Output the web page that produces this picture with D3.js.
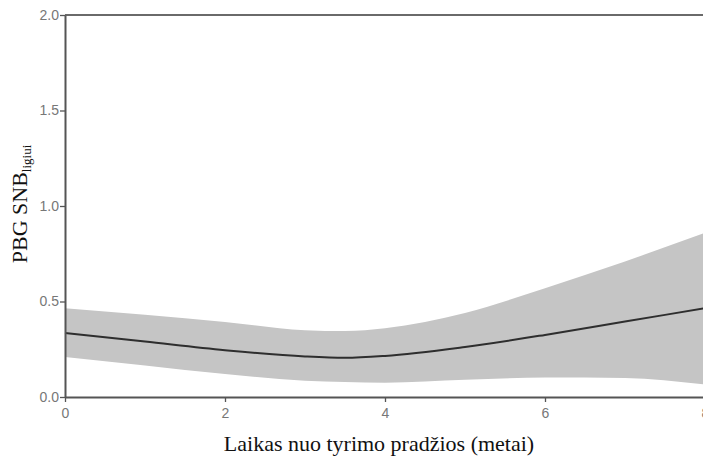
<!DOCTYPE html>
<html>
<head>
<meta charset="utf-8">
<script src="https://cdn.jsdelivr.net/npm/d3@7"></script>
<style>
  html, body { margin: 0; padding: 0; background: #fff; }
  svg { display: block; }
</style>
</head>
<body>
<svg id="chart" width="703" height="458"></svg>
<script>
// Years since study start
const years   = [0, 1, 2, 3, 3.5, 4, 5, 6, 7, 8];
// Fitted value and 95% confidence band
const fit     = [0.335, 0.29, 0.245, 0.212, 0.205, 0.215, 0.262, 0.325, 0.395, 0.465];
const upper   = [0.465, 0.43, 0.393, 0.35, 0.345, 0.36, 0.44, 0.57, 0.71, 0.86];
const lower   = [0.21, 0.165, 0.12, 0.085, 0.078, 0.075, 0.09, 0.102, 0.1, 0.065];
const xTicks  = [0, 2, 4, 6, 8];
const yTicks  = [0, 0.5, 1, 1.5, 2];

const svg = d3.select("#chart");
const margin = { left: 65, top: 15, right: -2, bottom: 61 };
const W = 703, H = 458;

const x = d3.scaleLinear().domain([0, 8]).range([margin.left, W - margin.right]);
const y = d3.scaleLinear().domain([0, 2]).range([H - margin.bottom, margin.top]);

const rows = years.map((t, i) => ({ t, fit: fit[i], lo: lower[i], hi: upper[i] }));

// Confidence band
svg.append("path")
  .datum(rows)
  .attr("fill", "#c5c5c5")
  .attr("d", d3.area()
    .x(d => x(d.t))
    .y0(d => y(d.lo))
    .y1(d => y(d.hi))
    .curve(d3.curveMonotoneX));

// Fitted curve
svg.append("path")
  .datum(rows)
  .attr("fill", "none")
  .attr("stroke", "#2e2e2e")
  .attr("stroke-width", 2)
  .attr("d", d3.line()
    .x(d => x(d.t))
    .y(d => y(d.fit))
    .curve(d3.curveMonotoneX));

// Top frame line
svg.append("line")
  .attr("x1", x(0)).attr("x2", W)
  .attr("y1", y(2)).attr("y2", y(2))
  .attr("stroke", "#6a6a6a").attr("stroke-width", 2);

// Axes
const xAxis = svg.append("g")
  .attr("transform", `translate(0,${y(0)})`)
  .call(d3.axisBottom(x).tickValues(xTicks).tickFormat(d3.format("d")).tickSize(5).tickSizeOuter(0));
const yAxis = svg.append("g")
  .attr("transform", `translate(${x(0)},0)`)
  .call(d3.axisLeft(y).tickValues(yTicks).tickFormat(d3.format(".1f")).tickSize(5).tickSizeOuter(0));

[xAxis, yAxis].forEach(g => {
  g.select(".domain").attr("stroke", "#555").attr("stroke-width", 2);
  g.selectAll(".tick line").attr("stroke", "#555").attr("stroke-width", 1.3);
  g.selectAll(".tick text")
    .attr("fill", "#777")
    .style("font-family", "Liberation Sans, Arial, sans-serif")
    .style("font-size", "14px");
});
xAxis.selectAll(".tick text").attr("dy", "0.9em");
yAxis.selectAll(".tick text").attr("x", -6);

// Axis titles
svg.append("text")
  .attr("x", 379).attr("y", 451)
  .attr("text-anchor", "middle")
  .style("font-family", "Liberation Serif, 'Times New Roman', serif")
  .style("font-size", "22px")
  .attr("fill", "#111")
  .text("Laikas nuo tyrimo pradžios (metai)");

const yTitle = svg.append("text")
  .attr("transform", "translate(27,204) rotate(-90)")
  .attr("text-anchor", "middle")
  .style("font-family", "Liberation Serif, 'Times New Roman', serif")
  .style("font-size", "22px")
  .attr("fill", "#111");
yTitle.append("tspan").text("PBG SNB");
yTitle.append("tspan")
  .attr("dy", "0.3em")
  .style("font-size", "13px")
  .text("ligiui");
</script>
</body>
</html>
